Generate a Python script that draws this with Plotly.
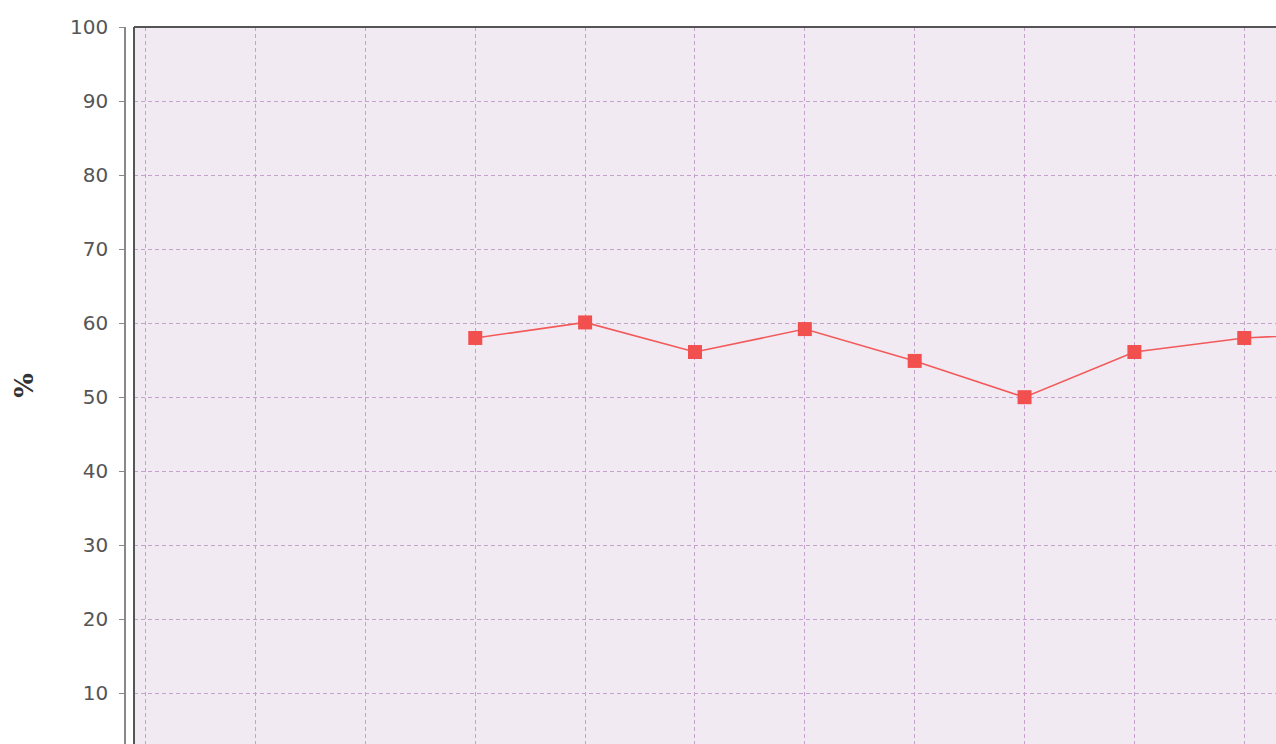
import plotly.graph_objects as go

# Data
categories = [3, 4, 5, 6, 7, 8, 9, 10, 11]
values = [58.0, 60.1, 56.1, 59.2, 54.9, 50.0, 56.1, 58.0, 58.7]
y_ticks = [10, 20, 30, 40, 50, 60, 70, 80, 90, 100]
x_grid = list(range(0, 12))

W, H = 1276, 744
ML = 125
plot_left_px = 134
dom0 = (plot_left_px - ML) / (W - ML)

fig = go.Figure()
fig.add_trace(go.Scatter(
    x=categories, y=values, mode="lines+markers",
    line=dict(color="#F25A5A", width=1.6),
    marker=dict(symbol="square", size=14, color="#F24F4F",
                line=dict(width=0)),
    cliponaxis=True, showlegend=False,
))

grid = "#C4A2CB"
fig.update_layout(
    width=W, height=H,
    margin=dict(l=ML, r=0, t=27, b=0, pad=0),
    paper_bgcolor="white",
    plot_bgcolor="#F2EAF3",
    font=dict(family="DejaVu Sans", color="#555555"),
    xaxis=dict(
        domain=[dom0, 1],
        range=[-0.1065, 10.289],
        tickvals=x_grid, showticklabels=False, ticks="",
        showgrid=True, gridcolor=grid, griddash="4px,3px", gridwidth=1,
        zeroline=False, showline=False,
    ),
    yaxis=dict(
        anchor="free", position=0,
        range=[3.16, 100],
        tickvals=y_ticks,
        ticks="outside", ticklen=5, tickcolor="#888888", tickwidth=1,
        showline=True, linecolor="#888888", linewidth=1.5,
        tickfont=dict(size=20, color="#555555"),
        ticklabelstandoff=7,
        showgrid=True, gridcolor=grid, griddash="4px,3px", gridwidth=1,
        zeroline=False,
        title=dict(text="<b>%</b>", font=dict(family="DejaVu Serif", size=26, color="#333333"),
                   standoff=28),
    ),
)

fig.add_shape(type="line", xref="x domain", yref="y domain",
              x0=0, x1=0, y0=0, y1=1, line=dict(color="#555555", width=2))
fig.add_shape(type="line", xref="x domain", yref="y domain",
              x0=0, x1=1, y0=1, y1=1, line=dict(color="#555555", width=2))

fig.write_html("out.html", config={"displayModeBar": False},
               post_script="document.body.style.margin='0';document.body.style.overflow='hidden';")
